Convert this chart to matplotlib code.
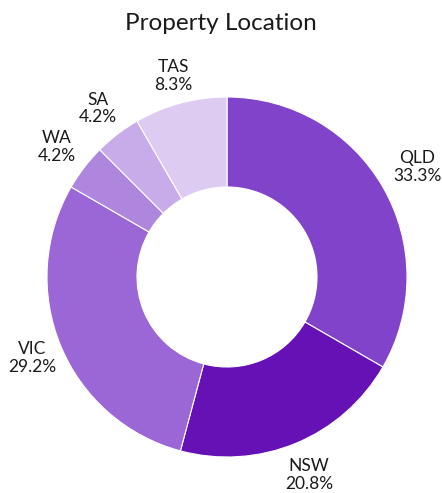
import matplotlib
matplotlib.use('Agg')
from matplotlib import pyplot as plt

plt.rcParams['font.family'] = ['Lato', 'DejaVu Sans']

states = ['QLD', 'NSW', 'VIC', 'WA', 'SA', 'TAS']
counts = [8, 5, 7, 1, 1, 2]
colors = ['#8043c9', '#6611b6', '#9b66d5', '#ae86dd', '#c8abe9', '#ddcbf1']
# how far out each label sits, in pie radii
label_dist = [1.22, 1.19, 1.17, 1.19, 1.18, 1.155]

fig = plt.figure(figsize=(4.42, 4.93), dpi=100)
ax = fig.add_axes([0, 0, 1, 1])

total = sum(counts)
labels = ['%s\n%.1f%%' % (s, c * 100.0 / total) for s, c in zip(states, counts)]

wedges, texts = ax.pie(counts, colors=colors, startangle=90, counterclock=False,
                       radius=1.0, labels=labels, labeldistance=1.0,
                       wedgeprops=dict(width=0.5, edgecolor='white', linewidth=0.8),
                       textprops=dict(fontsize=12.5, color='#1a1a1a', ha='center',
                                      va='center', linespacing=1.15))
for t, d in zip(texts, label_dist):
    x, y = t.get_position()
    t.set_position((x * d, y * d))
    t.set_ha('center')

# 1 data unit = 180 px, pie centre at (227, 277) px
scale = 180.0
ax.set_aspect('auto')
ax.set_xlim(-227 / scale, (442 - 227) / scale)
ax.set_ylim(-(493 - 277) / scale, 277 / scale)
ax.axis('off')

fig.text(0.5, 1 - 23 / 493.0, 'Property Location', ha='center', va='center',
         fontsize=17.5, color='#1a1a1a')

fig.savefig('out.png', dpi=100)
